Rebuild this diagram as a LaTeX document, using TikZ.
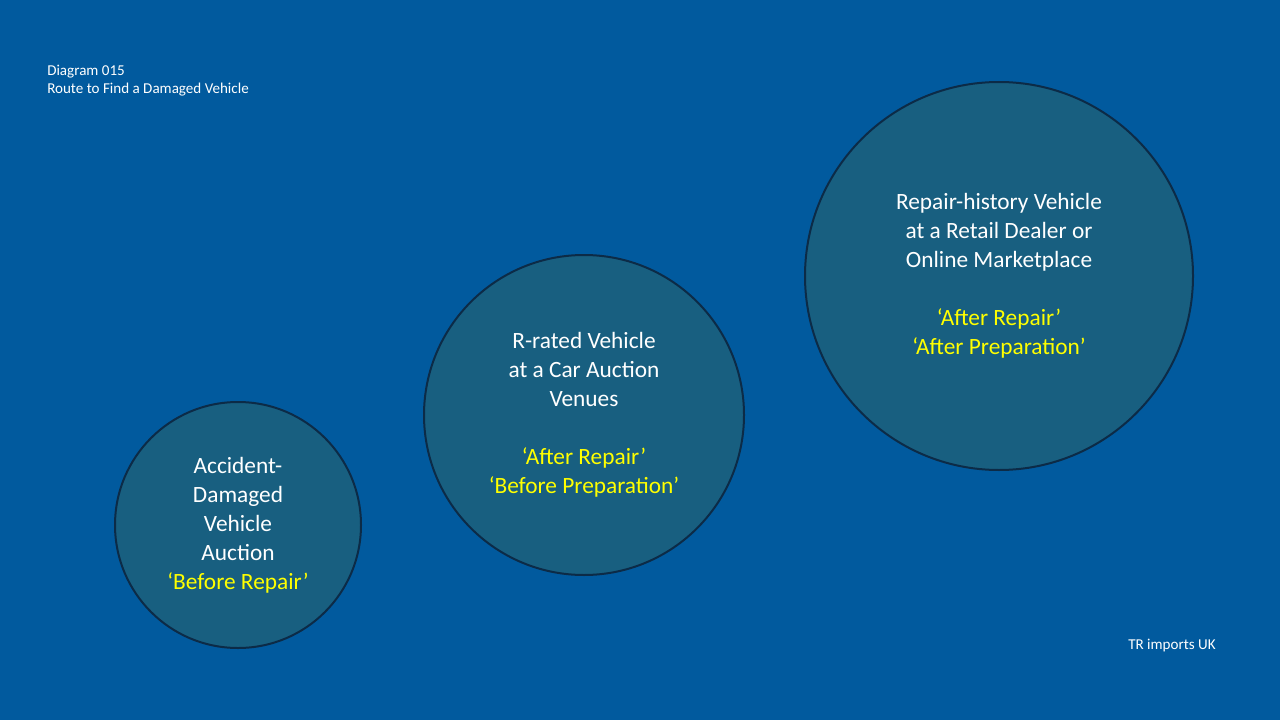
\documentclass[tikz,border=0pt]{standalone}
\usepackage{fontspec}
\setmainfont{Carlito}
\begin{document}
\begin{tikzpicture}[x=0.75pt,y=-0.75pt,
  circ/.style={circle,draw=circb,line width=1.5pt,fill=circf,inner sep=0pt},
  ctext/.style={align=center,text=white,font=\fontsize{17.5}{21.75}\selectfont},
  small/.style={anchor=north west,align=left,text=white,font=\fontsize{11.3}{13.5}\selectfont,inner sep=0pt}]
\definecolor{bg}{HTML}{015A9E}
\definecolor{circf}{HTML}{185F80}
\definecolor{circb}{HTML}{0C2B47}
\definecolor{yel}{HTML}{FFFF00}
\fill[bg] (0,0) rectangle (1280,720);
\useasboundingbox (0,0) rectangle (1280,720);
\node[circ,minimum size=184.5pt] (c1) at (238,525) {};
\node[circ,minimum size=240pt] (c2) at (584,415) {};
\node[circ,minimum size=291pt] (c3) at (999,276) {};
\node[ctext] (t1) at (238,525) {Accident-\\Damaged\\Vehicle\\Auction\\\textcolor{yel}{‘Before Repair’}};
\node[ctext] (t2) at (584,415) {R-rated Vehicle\\at a Car Auction\\Venues\\[21.75pt]\textcolor{yel}{‘After Repair’}\\\textcolor{yel}{‘Before Preparation’}};
\node[ctext] (t3) at (999,276) {Repair-history Vehicle\\at a Retail Dealer or\\Online Marketplace\\[21.75pt]\textcolor{yel}{‘After Repair’}\\\textcolor{yel}{‘After Preparation’}};
\node[small] (title) at (47,65) {Diagram 015\\Route to Find a Damaged Vehicle};
\node[small] (brand) at (1128,639) {TR imports UK};
\end{tikzpicture}
\end{document}
